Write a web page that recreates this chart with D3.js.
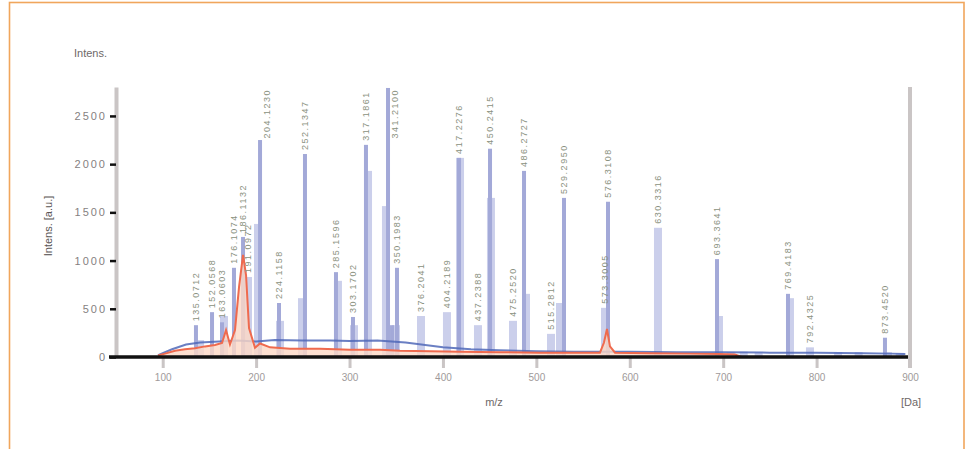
<!DOCTYPE html>
<html><head><meta charset="utf-8">
<script src="https://cdn.jsdelivr.net/npm/d3@7"></script>
<style>
html,body{margin:0;padding:0;background:#fff;}
svg{display:block;font-family:"Liberation Sans",Arial,sans-serif;}
</style></head>
<body><svg id="c" width="971" height="449"></svg>
<script>
// ---- data ----
const xTicks = [100, 200, 300, 400, 500, 600, 700, 800, 900];
const yTicks = [0, 500, 1000, 1500, 2000, 2500];

// thin spectrum sticks (m/z, intensity, label)
const stickMz  = [135.6, 152.8, 163.5, 176.3, 186.0, 204.2, 224.5, 252.3, 285.5, 303.7, 317.6, 341.2, 345.5, 350.8, 417.2, 450.4, 486.8, 529.6, 576.7, 693.4, 769.4, 873.2];
const stickInt = [330, 465, 360, 925, 1245, 2250, 560, 2105, 880, 415, 2200, 2790, 330, 925, 2065, 2160, 1930, 1650, 1610, 1015, 655, 200];
const stickLabel = ["135.0712","152.0568","163.0603","176.1074","186.1132","204.1230","224.1158","252.1347","285.1596","303.1702","317.1861","341.2100","","350.1983","417.2276","450.2415","486.2727","529.2950","576.3108","693.3641","769.4183","873.4520"];

// wide light bars (m/z, intensity, label)
const barMz  = [140.0, 165.6, 191.3, 202.0, 225.6, 249.1, 287.6, 304.8, 319.8, 339.0, 349.7, 376.5, 404.3, 418.3, 437.5, 451.4, 475.0, 488.9, 515.7, 525.3, 573.5, 630.2, 695.5, 708.0, 722.0, 738.0, 771.5, 792.9, 823.0, 845.0, 876.4, 889.0];
const barInt = [175, 425, 830, 1380, 375, 610, 790, 330, 1930, 1565, 330, 425, 465, 2065, 330, 1650, 375, 655, 240, 560, 510, 1340, 425, 50, 55, 45, 610, 100, 50, 50, 50, 40];
const barLabel = ["","","191.0972","","","","","","","","","376.2041","404.2189","","437.2388","","475.2520","","515.2812","","573.3005","630.3316","","","","","","792.4325","","","",""];

// red profile spectrum
const redMz  = [95, 102.5, 113.2, 123.9, 134.6, 145.3, 156, 163.5, 167.8, 172, 177.4, 181.7, 186, 189.2, 192.4, 198.8, 204.2, 214.9, 236.3, 268.4, 300.5, 332.6, 354, 386.1, 418.3, 461.1, 503.9, 546.7, 568.1, 572.4, 575.6, 578.8, 584.2, 621.6, 664.5, 696.6, 712.6, 720];
const redInt = [15, 35, 65, 80, 90, 110, 125, 145, 280, 130, 280, 725, 1060, 850, 300, 95, 140, 100, 85, 85, 75, 75, 65, 60, 55, 50, 45, 45, 45, 150, 290, 110, 45, 40, 35, 30, 25, 0];

// dark blue baseline spectrum
const blueMz  = [95, 110, 125, 140, 160, 180, 200, 220, 250, 280, 300, 330, 360, 400, 430, 460, 500, 540, 600, 650, 700, 750, 800, 850, 880, 895];
const blueInt = [20, 80, 130, 150, 160, 170, 160, 175, 170, 170, 165, 170, 150, 100, 80, 70, 60, 55, 55, 50, 50, 45, 45, 40, 35, 30];

// ---- drawing ----
const svg = d3.select("#c");
const x = d3.scaleLinear().domain([50, 900]).range([116, 910]);
const y = d3.scaleLinear().domain([0, 2800]).range([357, 87]);

// orange frame
svg.append("rect").attr("x", 9.5).attr("y", 2.5).attr("width", 954.5).attr("height", 520)
  .attr("fill", "none").attr("stroke", "#f0a65c").attr("stroke-width", 1.6);

// light bars
svg.append("g").selectAll("rect").data(barMz).join("rect")
  .attr("x", (d) => x(d) - 4).attr("width", 8)
  .attr("y", (d, i) => y(barInt[i])).attr("height", (d, i) => y(0) - y(barInt[i]))
  .attr("fill", "#cbcfeb");

// sticks
svg.append("g").selectAll("rect").data(stickMz).join("rect")
  .attr("x", (d) => x(d) - 2).attr("width", 4)
  .attr("y", (d, i) => y(stickInt[i])).attr("height", (d, i) => y(0) - y(stickInt[i]))
  .attr("fill", "#a3a9d8");

// dark blue baseline line
const bluePts = blueMz.map((m, i) => [m, blueInt[i]]);
svg.append("path").datum(bluePts)
  .attr("d", d3.line().x(d => x(d[0])).y(d => y(d[1])))
  .attr("fill", "none").attr("stroke", "#5068b8").attr("stroke-width", 2).attr("opacity", 0.85);

// red profile
const redPts = redMz.map((m, i) => [m, redInt[i]]);
svg.append("path").datum(redPts)
  .attr("d", d3.area().x(d => x(d[0])).y0(y(0)).y1(d => y(d[1])))
  .attr("fill", "#fdd8c6").attr("opacity", 0.8);
svg.append("path").datum(redPts)
  .attr("d", d3.line().x(d => x(d[0])).y(d => y(d[1])))
  .attr("fill", "none").attr("stroke", "#ef6a4e").attr("stroke-width", 2);

// peak labels
const labG = svg.append("g").attr("font-size", 9).attr("fill", "#8a9180").attr("letter-spacing", 1.5);
function addLabel(m, v, t) {
  if (!t) return;
  const top = y(v) - 4;
  if (top - 52 < y(2800)) {
    // no room above: place beside the peak, hanging from the top of the plot
    labG.append("text").attr("transform", `translate(${x(m) + 10},${y(2800) + 2}) rotate(-90)`)
      .attr("text-anchor", "end").text(t);
  } else {
    labG.append("text").attr("transform", `translate(${x(m) + 3},${top}) rotate(-90)`).text(t);
  }
}
stickMz.forEach((m, i) => addLabel(m, stickInt[i], stickLabel[i]));
barMz.forEach((m, i) => addLabel(m, barInt[i], barLabel[i]));

// y axis
const yAx = svg.append("g").attr("transform", `translate(${x(50)},0)`)
  .call(d3.axisLeft(y).tickValues(yTicks).tickFormat(d3.format("d")).tickSize(6).tickSizeOuter(0).tickPadding(3));
yAx.select(".domain").attr("stroke", "#cac5c5").attr("stroke-width", 4);
yAx.selectAll(".tick line").attr("stroke", "#111").attr("stroke-width", 2.5);
yAx.selectAll(".tick text").attr("fill", "#857f7f").attr("font-size", 11).attr("letter-spacing", 2)
  .attr("font-family", "Liberation Sans, Arial, sans-serif");

// x axis
const xAx = svg.append("g").attr("transform", `translate(0,${y(0)})`)
  .call(d3.axisBottom(x).tickValues(xTicks).tickSize(11).tickSizeOuter(0).tickPadding(6));
xAx.select(".domain").remove();
xAx.selectAll(".tick line").attr("stroke", "#cac5c5").attr("stroke-width", 3);
xAx.selectAll(".tick text").attr("fill", "#a09a9a").attr("font-size", 10)
  .attr("font-family", "Liberation Sans, Arial, sans-serif");
svg.append("line").attr("x1", x(50) - 7).attr("x2", x(900)).attr("y1", y(0)).attr("y2", y(0))
  .attr("stroke", "#111").attr("stroke-width", 3.5);

// right border line
svg.append("line").attr("x1", x(900)).attr("x2", x(900)).attr("y1", y(2800)).attr("y2", y(0) + 11)
  .attr("stroke", "#cac5c5").attr("stroke-width", 4);

// titles
svg.append("text").attr("x", 74).attr("y", 57).attr("font-size", 11).attr("fill", "#6e6868").text("Intens.");
svg.append("text").attr("transform", "translate(52,226) rotate(-90)").attr("text-anchor", "middle")
  .attr("font-size", 11).attr("fill", "#5a5555").text("Intens. [a.u.]");
svg.append("text").attr("x", 494).attr("y", 406).attr("text-anchor", "middle")
  .attr("font-size", 11).attr("fill", "#6e6868").text("m/z");
svg.append("text").attr("x", 911).attr("y", 406).attr("text-anchor", "middle")
  .attr("font-size", 11).attr("fill", "#6e6868").text("[Da]");
</script></body></html>
